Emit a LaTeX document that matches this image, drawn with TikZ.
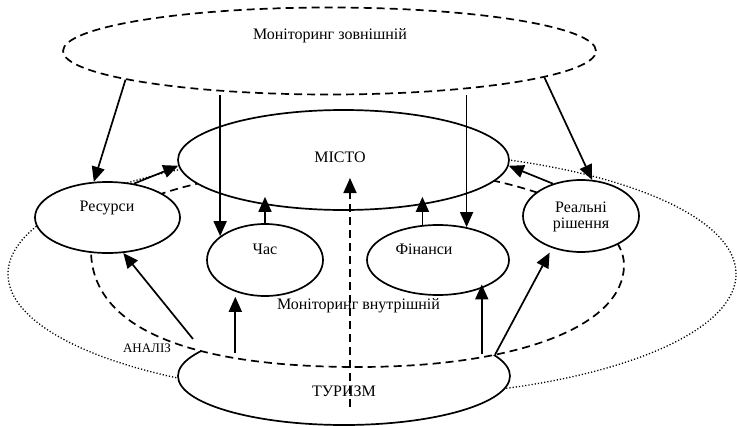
\documentclass[tikz,border=0pt]{standalone}
\usepackage{fontspec}
\setmainfont{Liberation Serif}
\usetikzlibrary{shapes.geometric,arrows.meta,calc}
\begin{document}
\begin{tikzpicture}[x=1pt,y=-1pt,
  ell/.style={ellipse,draw,line width=1.7pt,fill=white,inner sep=0pt},
  lbl/.style={anchor=base,inner sep=0pt,font=\fontsize{16}{16}\selectfont},
  tip/.style={-{Triangle[length=15pt,width=13pt]}},
  arr/.style={line width=1.7pt,tip},
  dsh/.style={line width=1.7pt,dash pattern=on 8pt off 5pt},
  dotl/.style={line width=1.3pt,dash pattern=on 1.2pt off 2pt}
]
\useasboundingbox (0,0) rectangle (737,426);
% big dotted ellipse
\node[ellipse,draw,dotl,inner sep=0pt,minimum width=728pt,minimum height=246pt] (big) at (372,274) {};
% tourism
\node[ell,minimum width=332pt,minimum height=98pt] (tur) at (344,376) {};
% internal monitoring region
\draw[dsh,fill=white] (358,167) .. controls (210.5,167) and (91,204) .. (91,250)
  .. controls (91,326) and (184,367) .. (358,367)
  .. controls (518,367) and (624,326) .. (624,265)
  .. controls (624,211) and (505,167) .. (358,167) -- cycle;
% external monitoring
\node[ellipse,draw,dsh,inner sep=0pt,minimum width=533pt,minimum height=87pt] (ext) at (329.5,51) {};
% main nodes
\node[ell,minimum width=331pt,minimum height=100pt] (mis) at (343.5,160) {};
\node[ell,minimum width=145pt,minimum height=71pt] (res) at (107.5,217.5) {};
\node[ell,minimum width=116pt,minimum height=72pt] (chas) at (265,260) {};
\node[ell,minimum width=142pt,minimum height=70pt] (fin) at (438,260) {};
\node[ell,minimum width=116pt,minimum height=72pt] (real) at (581,216) {};
% texts
\node[lbl] (t-ext) at (330,39.5) {Моніторинг зовнішній};
\node[lbl] (t-mis) at (340,162.5) {МІСТО};
\node[lbl] (t-res) at (107,211.5) {Ресурси};
\node[lbl] (t-chas) at (265,254) {Час};
\node[lbl] (t-fin) at (424,254) {Фінанси};
\node[lbl] (t-real1) at (581,212) {Реальні};
\node[lbl] (t-real2) at (581,228) {рішення};
\node[lbl] (t-int) at (358.5,309) {Моніторинг внутрішній};
\node[lbl,font=\fontsize{13}{13}\selectfont] (t-an) at (147,352.5) {АНАЛІЗ};
\node[lbl] (t-tur) at (344,396) {ТУРИЗМ};
% arrows from external monitoring
\draw[arr] (ext.188.8) -- (res.111);
\draw[arr] (ext.south -| chas.152) -- (chas.152);
\draw[arr] (ext.south -| fin.49) -- (fin.49);
\draw[arr] (ext.-7) -- (real.73);
% arrows into the city
\draw[arr] (chas.north) -- ($(chas.north |- mis.south)+(0,-14)$);
\draw[arr] (fin.114) -- ($(fin.114 |- mis.south)+(0,-14)$);
\draw[arr] (res.52.5) -- (mis.182);
\draw[arr] (real.131.6) -- (mis.-2.4);
\draw[dsh,tip] ($(tur.center)+(6,31)$) -- ($(mis.center)+(6.5,18)$);
% arrows from tourism
\draw[arr] ($(tur.center)+(-151,-37)$) -- (res.-66.4);
\draw[arr] ($(chas.-133 |- tur.north)+(0,27)$) -- ($(chas.-133)+(0,5)$);
\draw[arr] ($(fin.-33 |- tur.north)+(0,28)$) -- ($(fin.-33)+(0,-4)$);
\draw[arr] (tur.8.7) -- ($(real.-130)+(-4,4)$);
\end{tikzpicture}
\end{document}
